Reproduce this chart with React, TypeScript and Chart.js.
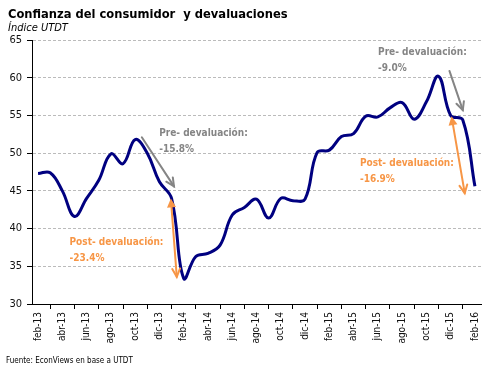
import React, { useEffect, useRef } from "react";
import { Chart, registerables } from "chart.js";

Chart.register(...registerables);

const months: string[] = [
  "feb-13", "mar-13", "abr-13", "may-13", "jun-13", "jul-13", "ago-13", "sep-13", "oct-13", "nov-13", "dic-13",
  "ene-14", "feb-14", "mar-14", "abr-14", "may-14", "jun-14", "jul-14", "ago-14", "sep-14", "oct-14", "nov-14", "dic-14",
  "ene-15", "feb-15", "mar-15", "abr-15", "may-15", "jun-15", "jul-15", "ago-15", "sep-15", "oct-15", "nov-15", "dic-15",
  "ene-16", "feb-16",
];

const confianza: number[] = [
  47.3, 47.4, 45.0, 41.6, 44.0, 46.4, 49.9, 48.6, 51.8, 50.0, 46.2,
  44.0, 33.4, 36.3, 36.7, 37.8, 41.8, 42.8, 43.9, 41.4, 44.0, 43.7, 43.9,
  50.1, 50.4, 52.2, 52.6, 54.9, 54.8, 56.0, 56.7, 54.5, 56.8, 60.2, 55.0,
  54.4, 45.6,
];

const yTicks: number[] = [30, 35, 40, 45, 50, 55, 60, 65];

const TITLE = "Confianza del consumidor  y devaluaciones";
const SUBTITLE = "Índice UTDT";
const SOURCE = "Fuente: EconViews en base a UTDT";

// annotation arrows in (category index, value) coordinates
type Arrow = { x1: number; y1: number; x2: number; y2: number; color: string; startHead: "none" | "filled"; endHead: "open" };
const GREY = "#858585";
const ORANGE = "#F79646";
const arrows: Arrow[] = [
  { x1: 8.55, y1: 52.1, x2: 11.2, y2: 45.6, color: GREY, startHead: "none", endHead: "open" },
  { x1: 10.94, y1: 44.0, x2: 11.43, y2: 33.6, color: ORANGE, startHead: "filled", endHead: "open" },
  { x1: 33.9, y1: 60.9, x2: 35.0, y2: 55.7, color: GREY, startHead: "none", endHead: "open" },
  { x1: 34.07, y1: 54.9, x2: 35.16, y2: 44.7, color: ORANGE, startHead: "filled", endHead: "open" },
];

type Note = { x: number; y: number; lines: string[]; color: string };
const notes: Note[] = [
  { x: 9.98, y: 52.6, lines: ["Pre- devaluación:", "-15.8%"], color: GREY },
  { x: 2.59, y: 38.2, lines: ["Post- devaluación:", "-23.4%"], color: ORANGE },
  { x: 28.02, y: 63.3, lines: ["Pre- devaluación:", "-9.0%"], color: GREY },
  { x: 26.52, y: 48.66, lines: ["Post- devaluación:", "-16.9%"], color: ORANGE },
];

const FONT = "'DejaVu Sans Condensed', 'Liberation Sans', sans-serif";

const annotationPlugin = {
  id: "devalAnnotations",
  afterDatasetsDraw(chart: any) {
    const { ctx, scales } = chart;
    const xs = scales.x;
    const ys = scales.y;
    ctx.save();
    for (const a of arrows) {
      const px1 = xs.getPixelForValue(a.x1);
      const py1 = ys.getPixelForValue(a.y1);
      const px2 = xs.getPixelForValue(a.x2);
      const py2 = ys.getPixelForValue(a.y2);
      const ang = Math.atan2(py2 - py1, px2 - px1);
      ctx.strokeStyle = a.color;
      ctx.fillStyle = a.color;
      ctx.lineWidth = 2;
      ctx.lineCap = "round";
      let sx = px1, sy = py1;
      if (a.startHead === "filled") {
        const L = 9, W = 4.5;
        const bx = px1 + Math.cos(ang) * L;
        const by = py1 + Math.sin(ang) * L;
        ctx.beginPath();
        ctx.moveTo(px1, py1);
        ctx.lineTo(bx + Math.cos(ang + Math.PI / 2) * W, by + Math.sin(ang + Math.PI / 2) * W);
        ctx.lineTo(bx - Math.cos(ang + Math.PI / 2) * W, by - Math.sin(ang + Math.PI / 2) * W);
        ctx.closePath();
        ctx.fill();
        sx = bx; sy = by;
      }
      ctx.beginPath();
      ctx.moveTo(sx, sy);
      ctx.lineTo(px2, py2);
      ctx.stroke();
      const H = 9, spread = 0.45;
      ctx.beginPath();
      ctx.moveTo(px2 - Math.cos(ang - spread) * H, py2 - Math.sin(ang - spread) * H);
      ctx.lineTo(px2, py2);
      ctx.lineTo(px2 - Math.cos(ang + spread) * H, py2 - Math.sin(ang + spread) * H);
      ctx.stroke();
    }
    ctx.font = `bold 10px ${FONT}`;
    ctx.textBaseline = "middle";
    ctx.textAlign = "left";
    for (const n of notes) {
      const px = xs.getPixelForValue(n.x);
      const py = ys.getPixelForValue(n.y);
      ctx.fillStyle = n.color;
      n.lines.forEach((l, i) => ctx.fillText(l, px, py + i * 16));
    }
    ctx.restore();
  },
};

export default function App() {
  const ref = useRef<HTMLCanvasElement | null>(null);
  useEffect(() => {
    if (!ref.current) return;
    const chart = new Chart(ref.current, {
      type: "line",
      data: {
        labels: months,
        datasets: [
          {
            data: confianza,
            borderColor: "#000080",
            borderWidth: 3,
            pointRadius: 0,
            tension: 0.4,
            fill: false,
          },
        ],
      },
      options: {
        animation: false,
        responsive: false,
        events: [],
        layout: { padding: { left: 0, top: 40, right: 14, bottom: 0 } },
        plugins: { legend: { display: false }, tooltip: { enabled: false }, title: { display: false } },
        scales: {
          x: {
            type: "category",
            offset: true,
            grid: {
              offset: true,
              drawOnChartArea: false,
              drawTicks: true,
              tickLength: 5,
              tickColor: "#000",
            },
            border: { color: "#000", width: 1 },
            ticks: {
              autoSkip: false,
              minRotation: 90,
              maxRotation: 90,
              padding: 3,
              color: "#111",
              font: { size: 10, family: FONT },
              callback: (_v: any, i: number) => (i % 2 === 0 ? months[i] : null),
            },
            afterFit: (s: any) => { s.height = 73; },
          },
          y: {
            min: 30,
            max: 65,
            afterBuildTicks: (s: any) => { s.ticks = yTicks.map((v) => ({ value: v })); },
            grid: {
              color: "#BBBBBB",
              tickColor: "#000",
              tickLength: 5,
              tickBorderDash: [],
            },
            border: { color: "#000", width: 1, dash: [3, 2] },
            ticks: {
              padding: 5,
              color: "#111",
              font: { size: 11, family: FONT },
            },
            afterFit: (s: any) => { s.width = 32; },
          },
        },
      },
      plugins: [annotationPlugin],
    });
    return () => chart.destroy();
  }, []);

  return (
    <div style={{ position: "fixed", left: 0, top: 0, width: 495, height: 377, background: "#fff", fontFamily: FONT }}>
      <canvas ref={ref} width={495} height={377} style={{ position: "absolute", left: 0, top: 0 }} />
      <div style={{ position: "absolute", left: 8, top: 6, fontWeight: "bold", fontSize: 12.8, color: "#000", whiteSpace: "pre", lineHeight: "16px" }}>{TITLE}</div>
      <div style={{ position: "absolute", left: 8, top: 21, fontStyle: "italic", fontSize: 11, color: "#000", lineHeight: "14px" }}>{SUBTITLE}</div>
      <div style={{ position: "absolute", left: 6, top: 356, fontSize: 8, color: "#000", lineHeight: "10px" }}>{SOURCE}</div>
    </div>
  );
}
